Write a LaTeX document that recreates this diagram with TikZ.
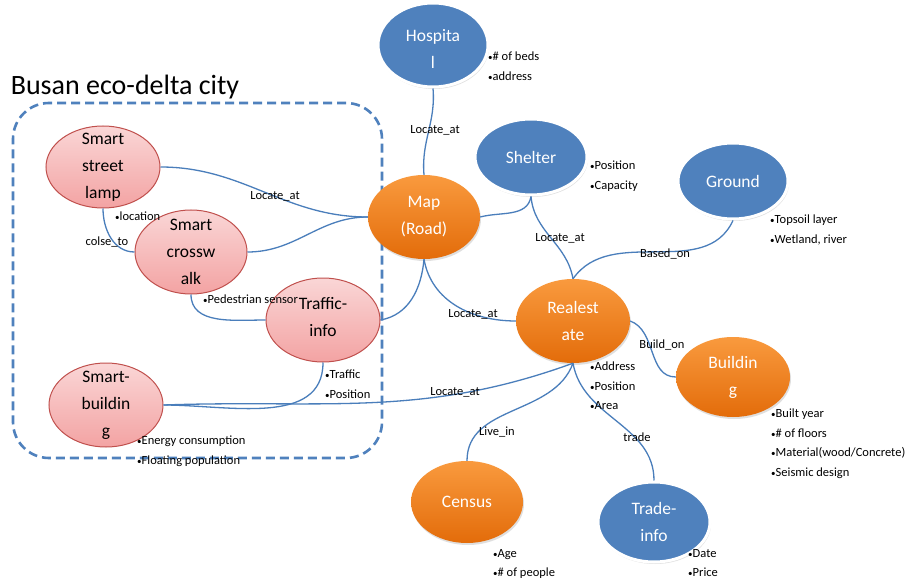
\documentclass[tikz,border=0pt]{standalone}
\usepackage{fontspec}
\setmainfont{Carlito}
\usetikzlibrary{shapes.geometric,shadows}
\definecolor{edgeblue}{HTML}{4A7EBB}
\definecolor{nodeblue}{HTML}{4F81BD}
\definecolor{pinkTop}{HTML}{FAD6D6}
\definecolor{pinkBot}{HTML}{F3A3A3}
\definecolor{pinkLine}{HTML}{C0504D}
\definecolor{orTop}{HTML}{F99A3E}
\definecolor{orBot}{HTML}{E36C0A}
\newcommand{\bul}{{\fontsize{9}{9}\selectfont •}}
\tikzset{
  ell/.style 2 args={ellipse, inner sep=0pt, minimum width=#1pt, minimum height=#2pt},
  pinknode/.style={draw=pinkLine, line width=1pt, top color=pinkTop, bottom color=pinkBot},
  orangenode/.style={top color=orTop, bottom color=orBot, draw=none,
     drop shadow={opacity=0.25, shadow xshift=1pt, shadow yshift=-2pt}},
  bluenode/.style={fill=nodeblue, draw=white, line width=3pt,
     drop shadow={opacity=0.25, shadow xshift=1pt, shadow yshift=-2pt}},
  ntext/.style={font=\fontsize{17.5}{27}\selectfont, align=center, text=white, inner sep=0pt},
  ptext/.style={ntext, text=black},
  attr/.style={font=\fontsize{12.5}{19.5}\selectfont, align=left, anchor=north west, inner sep=0pt},
  elabel/.style={font=\fontsize{12.5}{15}\selectfont, inner sep=0pt},
  conn/.style={draw=edgeblue, line width=1.3pt},
  region/.style={draw=nodeblue, line width=2.6pt, dash pattern=on 9pt off 5pt, rounded corners=36pt}
}
\begin{document}
\begin{tikzpicture}[x=1pt,y=1pt]
\useasboundingbox (0,0) rectangle (909,579);
\fill[white] (0,0) rectangle (909,579);

% title and region
\node[font=\fontsize{28}{30}\selectfont, inner sep=0pt] (title) at (125,492) {Busan eco-delta city};
\node[region, minimum width=369pt, minimum height=355pt, inner sep=0pt] (city) at (197.5,298.5) {};

% nodes
\node[ell={110}{84}, bluenode] (hosp) at (433,534) {};
\node[ell={112}{76}, bluenode] (shelter) at (531,422) {};
\node[ell={112}{84}, orangenode] (map) at (424,362) {};
\node[ell={110}{76}, bluenode] (ground) at (733,398) {};
\node[ell={114}{84}, orangenode] (real) at (573,258) {};
\node[ell={114}{80}, orangenode] (bldg) at (733,202) {};
\node[ell={112}{82}, orangenode] (census) at (467,77) {};
\node[ell={112}{80}, bluenode] (trade) at (654,57) {};
\node[ell={114}{82}, pinknode] (lamp) at (103,412) {};
\node[ell={112}{84}, pinknode] (cross) at (191,327) {};
\node[ell={114}{84}, pinknode] (traffic) at (323,259) {};
\node[ell={114}{84}, pinknode] (sbldg) at (106,174) {};

% node texts
\node[ntext] (hospT) at (433,530) {Hospita\\l};
\node[ntext] (shelterT) at (shelter) {Shelter};
\node[ntext] (mapT) at (map) {Map\\(Road)};
\node[ntext] (groundT) at (ground) {Ground};
\node[ntext] (realT) at (real) {Realest\\ate};
\node[ntext] (bldgT) at (bldg) {Buildin\\g};
\node[ntext] (censusT) at (census) {Census};
\node[ntext] (tradeT) at (trade) {Trade-\\info};
\node[ptext] (lampT) at (lamp) {Smart\\street\\lamp};
\node[ptext] (crossT) at (cross) {Smart\\crossw\\alk};
\node[ptext] (trafficT) at (323,262) {Traffic-\\info};
\node[ptext] (sbldgT) at (sbldg) {Smart-\\buildin\\g};

% connectors
\draw[conn] (hosp.south) to[out=-85,in=95] (map.north);
\draw[conn] (shelter.south) to[out=-100,in=15] (map.east);
\draw[conn] (shelter.south) to[out=-85,in=100] (real.north);
\draw[conn] (ground.south) to[out=-115,in=55] (real.north);
\draw[conn] (real.east) to[out=-20,in=180] (bldg.west);
\draw[conn] (map.south) to[out=-80,in=180] (real.west);
\draw[conn] (map.south) to[out=-95,in=10] (traffic.east);
\draw[conn] (lamp.east) to[out=0,in=180] (map.west);
\draw[conn] (cross.east) to[out=0,in=180] (map.west);
\draw[conn] (lamp.south) to[out=-90,in=180] (cross.west);
\draw[conn] (cross.south) to[out=-90,in=180] (traffic.west);
\draw[conn] (traffic.south) to[out=-90,in=0] (sbldg.east);
\draw[conn] (sbldg.east) to[out=2,in=-160] (real.south);
\draw[conn] (real.south) to[out=-110,in=90] (census.north);
\draw[conn] (real.south) to[out=-80,in=90] (trade.north);

% edge labels
\node[elabel] (l1) at (435,449) {Locate\_at};
\node[elabel] (l2) at (560,341) {Locate\_at};
\node[elabel] (l3) at (665,325) {Based\_on};
\node[elabel] (l4) at (662,234) {Build\_on};
\node[elabel] (l5) at (473,265) {Locate\_at};
\node[elabel] (l6) at (275,383) {Locate\_at};
\node[elabel] (l7) at (107,337) {colse\_to};
\node[elabel] (l8) at (455,187) {Locate\_at};
\node[elabel] (l9) at (497,147) {Live\_in};
\node[elabel] (l10) at (637,142) {trade};

% attribute lists
\node[attr] (aHosp) at (488,527) {\bul\# of beds\\\bul address};
\node[attr] (aShelter) at (590,418) {\bul Position\\\bul Capacity};
\node[attr] (aGround) at (770,364) {\bul Topsoil layer\\\bul Wetland, river};
\node[attr] (aReal) at (590,217) {\bul Address\\\bul Position\\\bul Area};
\node[attr] (aBldg) at (771,170) {\bul Built year\\\bul\# of floors\\\bul Material(wood/Concrete)\\\bul Seismic design};
\node[attr] (aCensus) at (493,30) {\bul Age\\\bul\# of people};
\node[attr] (aTrade) at (688,30) {\bul Date\\\bul Price};
\node[attr] (aTraffic) at (325,209) {\bul Traffic\\\bul Position};
\node[attr] (aSbldg) at (137,143) {\bul Energy consumption\\\bul Floating population};
\node[attr] (aLamp) at (115,367) {\bul location};
\node[attr] (aCross) at (203,284) {\bul Pedestrian sensor};
\end{tikzpicture}
\end{document}
